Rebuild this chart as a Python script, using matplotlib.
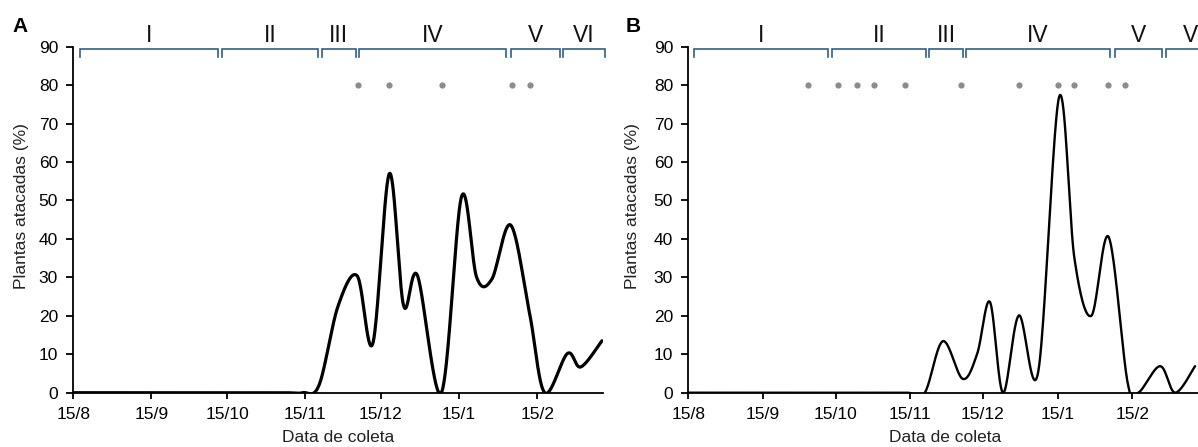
import numpy as np
import matplotlib
matplotlib.use("Agg")
import matplotlib.pyplot as plt

plt.rcParams['font.family'] = ['Liberation Sans', 'DejaVu Sans']

# ---- data (x = days after 15 Aug) ----
tick_labels = ["15/8", "15/9", "15/10", "15/11", "15/12", "15/1", "15/2"]
tick_days = [0, 31, 61, 92, 122, 153, 184]
y_ticks = [0, 10, 20, 30, 40, 50, 60, 70, 80, 90]

days_a = [0, 14, 28, 42, 56, 70, 84, 91, 97.5, 105, 112.6, 118.8, 125.4, 131,
          136.5, 146, 154, 160, 166, 173.5, 181, 187, 196, 201.3, 209.7]
vals_a = [0, 0, 0, 0, 0, 0, 0, 0, 2, 22.5, 30.4, 12.8, 57, 22.7,
          30.5, 0, 51, 30, 29.5, 43.6, 20.6, 0, 10.2, 6.7, 13.5]

days_b = [0, 14, 28, 42, 56, 70, 84, 91, 98, 105.5, 113.7, 119.7, 125, 130.4,
          137, 145, 153.7, 160, 167, 174.2, 182, 186.5, 195.5, 201.8, 210]
vals_b = [0, 0, 0, 0, 0, 0, 0, 0, 0, 13.4, 3.6, 10.1, 23.6, 0,
          20.1, 5.4, 77, 35, 20, 40.5, 2.8, 0, 6.9, 0, 6.9]

dots_a = [113.0, 125.2, 146.2, 174.2, 181.1]
dots_b = [49.7, 61.9, 70.0, 77.0, 89.9, 112.9, 136.9, 153.0, 159.8, 173.9, 181.1]
dot_level = 80

phase_labels = ["I", "II", "III", "IV", "V", "VI"]
phase_start_a = [2.66, 58.8, 98.5, 113.3, 173.8, 194.3]
phase_end_a = [57.3, 97.1, 112.0, 171.8, 193.0, 210.8]
phase_start_b = [2.5, 59.6, 99.8, 115.0, 176.7, 198.1]
phase_end_b = [58.0, 98.7, 113.9, 174.9, 196.3, 221.0]


def excel_smooth(x, y, n=40):
    """Bezier smoothing like spreadsheet 'smoothed line' (Catmull-Rom, 1/6)."""
    P = np.column_stack([x, y]).astype(float)
    m = len(P)
    out = []
    t = np.linspace(0, 1, n)
    for i in range(m - 1):
        p0 = P[i - 1] if i > 0 else P[i]
        p1 = P[i]
        p2 = P[i + 1]
        p3 = P[i + 2] if i + 2 < m else P[i + 1]
        c1 = p1 + (p2 - p0) / 6.0
        c2 = p2 - (p3 - p1) / 6.0
        b = ((1 - t) ** 3)[:, None] * p1 + (3 * (1 - t) ** 2 * t)[:, None] * c1 \
            + (3 * (1 - t) * t ** 2)[:, None] * c2 + (t ** 3)[:, None] * p2
        out.append(b if i == 0 else b[1:])
    out = np.vstack(out)
    return out[:, 0], out[:, 1]


W, H = 1198, 447
fig = plt.figure(figsize=(W / 100, H / 100), dpi=100)

bottom_px, top_px = 392.7, 46.7
ax_a = fig.add_axes([73.3 / W, 1 - bottom_px / H, 529.4 / W, (bottom_px - top_px) / H])
ax_b = fig.add_axes([688.3 / W, 1 - bottom_px / H, 514 / W, (bottom_px - top_px) / H])

blue = '#2f5d8c'
panels = [
    (ax_a, days_a, vals_a, dots_a, phase_start_a, phase_end_a, 210, 2.3, "A", 12, -0.083),
    (ax_b, days_b, vals_b, dots_b, phase_start_b, phase_end_b, 213, 1.7, "B", 626, -0.093),
]

for ax, dx, vy, dots, ps, pe, xmax, lw, letter, lx, ylx in panels:
    sx, sy = excel_smooth(dx, vy)
    ax.plot(sx, sy, color='black', lw=lw, solid_capstyle='round', solid_joinstyle='round')
    ax.plot(dots, [dot_level] * len(dots), 'o', color='#8c8c8c', ms=4.5, mec='none')
    ax.set_xlim(0, xmax)
    ax.set_ylim(0, 90)
    ax.set_xticks(tick_days)
    ax.set_xticklabels(tick_labels)
    ax.set_yticks(y_ticks)
    for s in ['top', 'right']:
        ax.spines[s].set_visible(False)
    for s in ['left', 'bottom']:
        ax.spines[s].set_linewidth(1.3)
    ax.tick_params(axis='x', length=4, width=1.3, labelsize=12.5, pad=6.5)
    ax.tick_params(axis='y', length=5, width=1.3, labelsize=12.5, pad=6)
    ax.set_xlabel("Data de coleta", fontsize=12.5, color='#222222')
    ax.set_ylabel("Plantas atacadas (%)", fontsize=12.5, color='#222222')
    ax.xaxis.set_label_coords(0.5, -0.108)
    ax.yaxis.set_label_coords(ylx, 0.54)
    for a0, a1, lab in zip(ps, pe, phase_labels):
        ax.plot([a0, a0, a1, a1], [87.2, 89.4, 89.4, 87.2], color=blue, lw=1.2,
                clip_on=False, solid_joinstyle='miter')
        ax.text((a0 + a1) / 2, 92.9, lab, ha='center', va='center', fontsize=16.5,
                color='#111111', clip_on=False)
    fig.text(lx / W, 1 - 27 / H, letter, fontsize=15, fontweight='bold', ha='left', va='center')

fig.savefig("out.png", dpi=100)
